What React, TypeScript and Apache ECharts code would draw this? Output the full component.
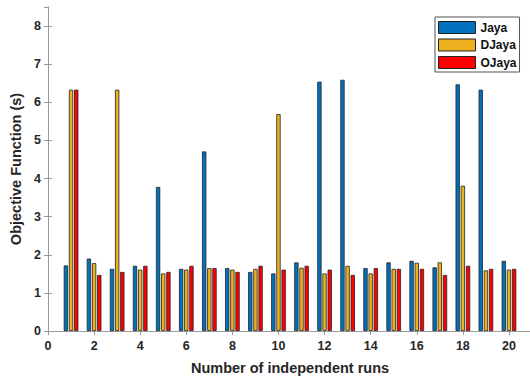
import React, { useEffect, useRef } from "react";
import * as echarts from "echarts";

const runs = [1, 2, 3, 4, 5, 6, 7, 8, 9, 10, 11, 12, 13, 14, 15, 16, 17, 18, 19, 20];
const jaya = [1.72, 1.9, 1.63, 1.71, 3.78, 1.63, 4.71, 1.65, 1.55, 1.51, 1.8, 6.54, 6.59, 1.65, 1.8, 1.84, 1.67, 6.47, 6.33, 1.84];
const djaya = [6.33, 1.78, 6.33, 1.61, 1.51, 1.61, 1.65, 1.61, 1.63, 5.69, 1.66, 1.51, 1.71, 1.51, 1.63, 1.79, 1.8, 3.81, 1.59, 1.61];
const ojaya = [6.33, 1.47, 1.55, 1.71, 1.55, 1.71, 1.65, 1.55, 1.71, 1.61, 1.71, 1.61, 1.47, 1.65, 1.63, 1.63, 1.47, 1.71, 1.63, 1.63];
const seriesNames = ["Jaya", "DJaya", "OJaya"];
const colors = ["#0072BD", "#EDB120", "#FF0000"];

const FONT = "Liberation Sans, Arial, Helvetica, sans-serif";

export default function App() {
  const ref = useRef<HTMLDivElement>(null);
  useEffect(() => {
    if (!ref.current) return;
    const chart = echarts.init(ref.current, undefined, { renderer: "svg" });
    const axisLine = { show: true, lineStyle: { color: "#9a9a9a", width: 1 } };
    const tick = { show: true, inside: true, length: 4, lineStyle: { color: "#9a9a9a" } };
    const data = [jaya, djaya, ojaya];
    chart.setOption({
      animation: false,
      backgroundColor: "#ffffff",
      grid: {
        left: 48,
        top: 7,
        width: 484,
        height: 324,
        containLabel: false,
        outerBoundsMode: "none",
      },
      legend: {
        orient: "vertical",
        left: 435,
        top: 17,
        data: seriesNames,
        icon: "rect",
        itemWidth: 37,
        itemHeight: 12,
        itemGap: 4.5,
        padding: [4, 3, 3, 3],
        backgroundColor: "#ffffff",
        borderColor: "#555555",
        borderWidth: 1,
        borderRadius: 0,
        textStyle: { fontFamily: FONT, fontWeight: "bold", fontSize: 12, lineHeight: 12, color: "#111" },
        itemStyle: { borderColor: "#222", borderWidth: 1 },
      },
      xAxis: [
        {
          type: "value",
          min: 0,
          max: 21,
          interval: 2,
          position: "bottom",
          name: "Number of independent runs",
          nameLocation: "middle",
          nameGap: 29,
          nameTextStyle: { fontFamily: FONT, fontWeight: "bold", fontSize: 14.5, color: "#262626" },
          axisLine,
          axisTick: tick,
          axisLabel: { fontFamily: FONT, fontWeight: "bold", fontSize: 12.5, color: "#262626", margin: 8, showMaxLabel: false },
          splitLine: { show: false },
        },
        {
          type: "value",
          min: 0,
          max: 21,
          interval: 2,
          position: "top",
          axisLine,
          axisTick: tick,
          axisLabel: { show: false },
          splitLine: { show: false },
        },
      ],
      yAxis: [
        {
          type: "value",
          min: 0,
          max: 8.5,
          interval: 1,
          position: "left",
          name: "Objective Function (s)",
          nameLocation: "middle",
          nameGap: 24,
          nameTextStyle: { fontFamily: FONT, fontWeight: "bold", fontSize: 14.5, color: "#262626" },
          axisLine,
          axisTick: tick,
          axisLabel: { fontFamily: FONT, fontWeight: "bold", fontSize: 12.5, color: "#262626", margin: 7, showMaxLabel: false },
          splitLine: { show: false },
        },
        {
          type: "value",
          min: 0,
          max: 8.5,
          interval: 1,
          position: "right",
          axisLine,
          axisTick: tick,
          axisLabel: { show: false },
          splitLine: { show: false },
        },
      ],
      series: seriesNames.map((name, i) => ({
        name,
        type: "bar",
        xAxisIndex: 0,
        yAxisIndex: 0,
        barWidth: 4.3,
        barGap: "20%",
        data: runs.map((r, j) => [r, data[i][j]]),
        itemStyle: { color: colors[i], borderColor: "#222", borderWidth: 0.8 },
      })),
    });
    return () => chart.dispose();
  }, []);
  return (
    <div
      ref={ref}
      style={{ position: "fixed", left: 0, top: 0, width: 530, height: 377 }}
    />
  );
}
